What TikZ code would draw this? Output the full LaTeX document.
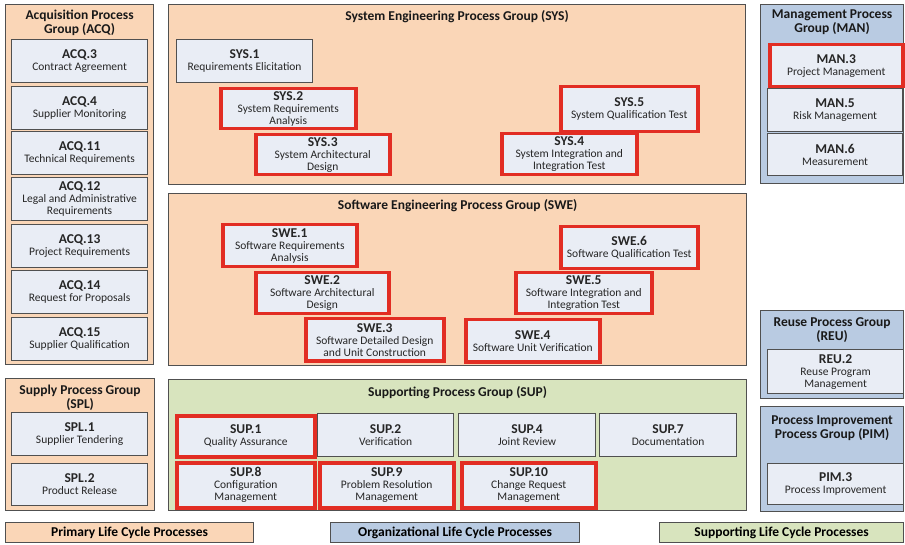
\documentclass[tikz,border=0pt]{standalone}
\usepackage{fontspec}
\setmainfont{Carlito}
\usetikzlibrary{positioning}

\definecolor{peach}{RGB}{250,214,183}
\definecolor{orgblue}{RGB}{185,203,226}
\definecolor{suppgreen}{RGB}{216,228,190}
\definecolor{boxfill}{RGB}{233,237,245}
\definecolor{hotred}{RGB}{226,45,35}
\definecolor{edge}{RGB}{80,80,80}

\newcommand{\procid}[1]{{\fontsize{13.5}{14}\selectfont\bfseries #1}}

\tikzset{
	grp/.style={draw=edge, line width=1.2pt, anchor=north west, inner sep=0pt},
	primary/.style={grp, fill=peach},
	org/.style={grp, fill=orgblue},
	supp/.style={grp, fill=suppgreen},
	grptitle/.style={font=\fontsize{13.5}{14}\selectfont\bfseries, align=center, inner sep=0pt, text=black!90},
	proc/.style={draw=edge, line width=1.2pt, fill=boxfill, anchor=north west, inner sep=0pt,
		align=center, minimum width=136pt, minimum height=43pt,
		font=\fontsize{11.5}{12}\selectfont, text=black!85},
	hot/.style={proc, draw=hotred, line width=3.5pt},
	legend/.style={grp, minimum height=20pt, font=\fontsize{13.5}{14}\selectfont\bfseries}
}

\begin{document}
\begin{tikzpicture}[x=1pt, y=-1pt]
	\useasboundingbox (0,0) rectangle (905,545);

	% groups
	\node (acq) at (5,4)	[primary, minimum width=148pt, minimum height=360pt]	{};
	\node (sys) at (168,4)	[primary, minimum width=577pt, minimum height=180pt]	{};
	\node (man) at (760,4)	[org, minimum width=143pt, minimum height=179pt]	{};
	\node (swe) at (168,193)	[primary, minimum width=578pt, minimum height=172pt]	{};
	\node (reu) at (760,310)	[org, minimum width=143pt, minimum height=88pt]	{};
	\node (pim) at (760,406)	[org, minimum width=143pt, minimum height=105pt]	{};
	\node (spl) at (5,378)	[primary, minimum width=149pt, minimum height=132pt]	{};
	\node (sup) at (168,379)	[supp, minimum width=578pt, minimum height=131pt]	{};

	\node (acqT) [grptitle, below=6pt of acq.north]	{Acquisition Process\\Group (ACQ)};
	\node (sysT) [grptitle, below=6pt of sys.north]	{System Engineering Process Group (SYS)};
	\node (manT) [grptitle, below=6pt of man.north]	{Management Process\\Group (MAN)};
	\node (sweT) [grptitle, below=6pt of swe.north]	{Software Engineering Process Group (SWE)};
	\node (reuT) [grptitle, below=7pt of reu.north]	{Reuse Process Group\\(REU)};
	\node (pimT) [grptitle, below=10pt of pim.north]	{Process Improvement\\Process Group (PIM)};
	\node (splT) [grptitle, below=7pt of spl.north]	{Supply Process Group\\(SPL)};
	\node (supT) [grptitle, below=7pt of sup.north]	{Supporting Process Group (SUP)};

	% acquisition
	\node (acq3) at (11,39)	[proc]	{\procid{ACQ.3}\\Contract Agreement};
	\node (acq4) at (11,86)	[proc]	{\procid{ACQ.4}\\Supplier Monitoring};
	\node (acq11) at (11,131)	[proc]	{\procid{ACQ.11}\\Technical Requirements};
	\node (acq12) at (11,177)	[proc]	{\procid{ACQ.12}\\Legal and Administrative\\Requirements};
	\node (acq13) at (11,224)	[proc]	{\procid{ACQ.13}\\Project Requirements};
	\node (acq14) at (11,270)	[proc]	{\procid{ACQ.14}\\Request for Proposals};
	\node (acq15) at (11,317)	[proc]	{\procid{ACQ.15}\\Supplier Qualification};

	% system engineering
	\node (sys1) at (176,39)	[proc]	{\procid{SYS.1}\\Requirements Elicitation};
	\node (sys2) at (219,87)	[hot, minimum width=135pt, minimum height=40pt]	{\procid{SYS.2}\\System Requirements\\Analysis};
	\node (sys3) at (254,133)	[hot, minimum width=134pt, minimum height=40pt]	{\procid{SYS.3}\\System Architectural\\Design};
	\node (sys5) at (559,85)	[hot, minimum width=137pt, minimum height=45pt]	{\procid{SYS.5}\\System Qualification Test};
	\node (sys4) at (500,132)	[hot, minimum width=135pt, minimum height=41pt]	{\procid{SYS.4}\\System Integration and\\Integration Test};

	% management
	\node (man3) at (768,43)	[hot, minimum width=133pt, minimum height=42pt]	{\procid{MAN.3}\\Project Management};
	\node (man5) at (767,88)	[proc, minimum width=135pt]	{\procid{MAN.5}\\Risk Management};
	\node (man6) at (767,133)	[proc, minimum width=135pt, minimum height=42pt]	{\procid{MAN.6}\\Measurement};

	% software engineering
	\node (swe1) at (221,223)	[hot, minimum width=134pt, minimum height=42pt]	{\procid{SWE.1}\\Software Requirements\\Analysis};
	\node (swe2) at (254,271)	[hot, minimum width=133pt, minimum height=41pt]	{\procid{SWE.2}\\Software Architectural\\Design};
	\node (swe3) at (304,317)	[hot, minimum width=138pt, minimum height=42pt]	{\procid{SWE.3}\\Software Detailed Design\\and Unit Construction};
	\node (swe6) at (559,225)	[hot, minimum width=137pt, minimum height=42pt]	{\procid{SWE.6}\\Software Qualification Test};
	\node (swe5) at (514,271)	[hot, minimum width=136pt, minimum height=41pt]	{\procid{SWE.5}\\Software Integration and\\Integration Test};
	\node (swe4) at (464,318)	[hot, minimum width=134pt, minimum height=42pt]	{\procid{SWE.4}\\Software Unit Verification};

	% reuse, process improvement
	\node (reu2) at (767,349)	[proc, minimum height=44pt]	{\procid{REU.2}\\Reuse Program\\Management};
	\node (pim3) at (767,463)	[proc, minimum height=41pt]	{\procid{PIM.3}\\Process Improvement};

	% supply
	\node (spl1) at (11,412)	[proc]	{\procid{SPL.1}\\Supplier Tendering};
	\node (spl2) at (11,463)	[proc, minimum height=42pt]	{\procid{SPL.2}\\Product Release};

	% supporting
	\node (sup1) at (175,414)	[hot, minimum width=138pt, minimum height=41pt]	{\procid{SUP.1}\\Quality Assurance};
	\node (sup2) at (317,413)	[proc]	{\procid{SUP.2}\\Verification};
	\node (sup4) at (458,413)	[proc, minimum width=137pt]	{\procid{SUP.4}\\Joint Review};
	\node (sup7) at (599,413)	[proc, minimum width=137pt]	{\procid{SUP.7}\\Documentation};
	\node (sup8) at (175,461)	[hot, minimum width=138pt, minimum height=45pt]	{\procid{SUP.8}\\Configuration\\Management};
	\node (sup9) at (318,461)	[hot, minimum width=134pt, minimum height=45pt]	{\procid{SUP.9}\\Problem Resolution\\Management};
	\node (sup10) at (460,461)	[hot, minimum width=134pt, minimum height=45pt]	{\procid{SUP.10}\\Change Request\\Management};

	% legend
	\node (legPrim) at (5,522)	[legend, fill=peach, minimum width=248pt]	{Primary Life Cycle Processes};
	\node (legOrg) at (330,522)	[legend, fill=orgblue, minimum width=249pt]	{Organizational Life Cycle Processes};
	\node (legSupp) at (659,522)	[legend, fill=suppgreen, minimum width=244pt]	{Supporting Life Cycle Processes};
\end{tikzpicture}
\end{document}
